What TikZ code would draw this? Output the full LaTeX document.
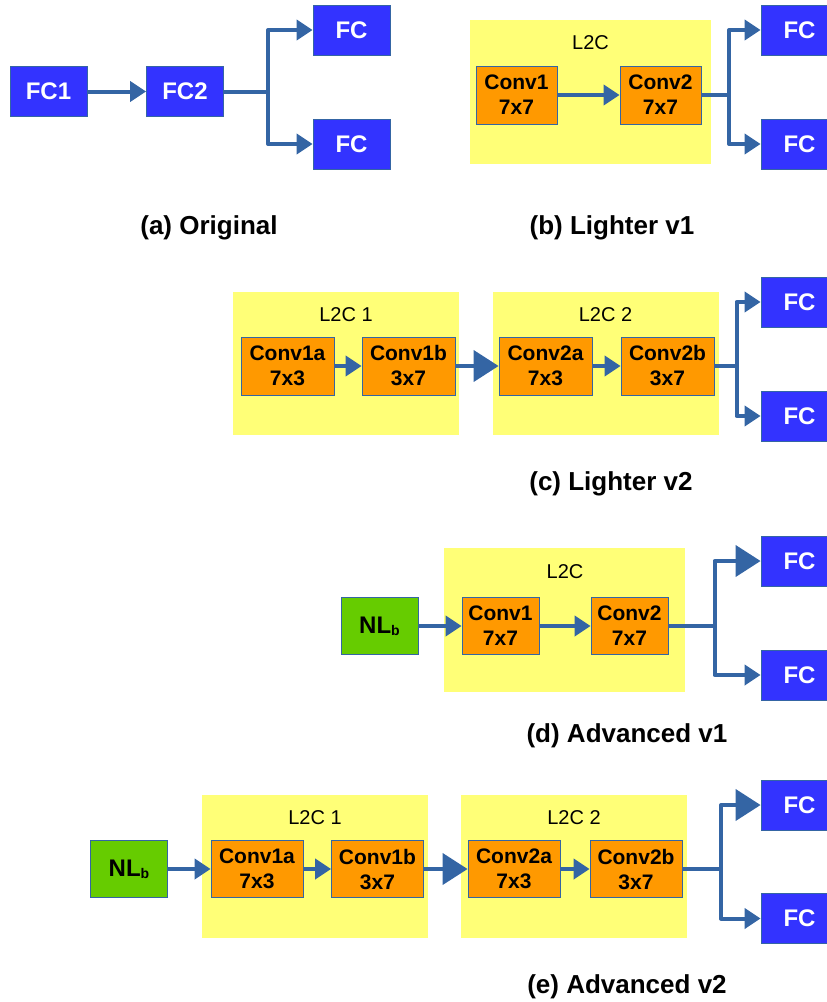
\documentclass[tikz,border=0pt]{standalone}
\usepackage{fontspec}
\setmainfont{Liberation Sans}
\usepackage{xcolor}
\usetikzlibrary{arrows.meta,positioning}

\definecolor{fcblue}{HTML}{3333FF}
\definecolor{convorange}{HTML}{FF9900}
\definecolor{nlgreen}{HTML}{66CC00}
\definecolor{l2cyellow}{HTML}{FFFF77}
\definecolor{arrblue}{HTML}{3465A4}

\begin{document}
\begin{tikzpicture}[x=1pt, y=-1pt,
  arr/.style={-{Triangle[length=16pt,width=20pt]}, line width=4pt, draw=arrblue, line join=round},
  bigarr/.style={-{Triangle[length=25pt,width=31pt]}, line width=4pt, draw=arrblue, line join=round},
  link/.style={line width=4pt, draw=arrblue},
  fcbox/.style={draw=arrblue, line width=0.8pt, fill=fcblue, text=white, minimum width=77pt,
                minimum height=50pt, inner sep=0pt, font=\fontsize{24}{28}\selectfont\bfseries},
  convbox/.style={draw=arrblue, line width=0.8pt, fill=convorange, minimum width=81pt,
                  minimum height=58pt, inner sep=0pt, align=center, font=\fontsize{21}{25}\selectfont\bfseries},
  nlbox/.style={draw=arrblue, line width=0.8pt, fill=nlgreen, minimum width=77pt,
                minimum height=57pt, inner sep=0pt, font=\fontsize{24}{28}\selectfont\bfseries},
  l2cbox/.style={fill=l2cyellow, minimum width=241pt, minimum height=144pt, inner sep=0pt},
  l2ctext/.style={font=\fontsize{20}{24}\selectfont},
  captext/.style={font=\fontsize{26}{30}\selectfont\bfseries},
]
\useasboundingbox (0,0) rectangle (827,1002);
\clip (0,0) rectangle (827,1002);

\node[fcbox] (fcone) at (48.5,91.5) {FC1};
\node[fcbox] (fctwo) at (185,91.5) {FC2};
\node[fcbox] (fcaup) at (351.5,30) {FC};
\node[fcbox] (fcadown) at (351.5,144) {FC};
\coordinate (forka) at (268,91.5);
\draw[arr] (fcone) -- (fctwo);
\draw[link] (fctwo) -- (forka);
\draw[arr] (forka) |- (fcaup);
\draw[arr] (forka) |- (fcadown);
\node[captext] (capa) at (209,228) {(a) Original};

\node[l2cbox] (l2cb) at (590.5,92) {};
\node[l2ctext] (l2cbtext) at (590.5,43) {L2C};
\node[convbox] (convbone) at (516.5,95) {Conv1\\7x7};
\node[convbox] (convbtwo) at (660.5,95) {Conv2\\7x7};
\node[fcbox] (fcbup) at (799.5,30) {FC};
\node[fcbox] (fcbdown) at (799.5,144) {FC};
\coordinate (forkb) at (729,95);
\draw[arr] (convbone) -- (convbtwo);
\draw[link] (convbtwo) -- (forkb);
\draw[arr] (forkb) |- (fcbup);
\draw[arr] (forkb) |- (fcbdown);
\node[captext] (capb) at (612,228) {(b) Lighter v1};

\node[l2cbox, minimum width=226pt, minimum height=143pt] (l2cca) at (346,363.5) {};
\node[l2ctext] (l2ccatext) at (346,315) {L2C 1};
\node[l2cbox, minimum width=226pt, minimum height=143pt] (l2ccb) at (605.5,363.5) {};
\node[l2ctext] (l2ccbtext) at (605.5,315) {L2C 2};
\node[convbox, minimum width=93pt] (convcia) at (287.5,366) {Conv1a\\7x3};
\node[convbox, minimum width=93pt] (convcib) at (408.5,366) {Conv1b\\3x7};
\node[convbox, minimum width=93pt] (convciia) at (545.5,366) {Conv2a\\7x3};
\node[convbox, minimum width=93pt] (convciib) at (667.5,366) {Conv2b\\3x7};
\node[fcbox] (fccup) at (799.5,302) {FC};
\node[fcbox] (fccdown) at (799.5,416) {FC};
\coordinate (forkc) at (736.5,366);
\draw[arr] (convcia) -- (convcib);
\draw[bigarr] (convcib) -- (convciia);
\draw[arr] (convciia) -- (convciib);
\draw[link] (convciib) -- (forkc);
\draw[arr] (forkc) |- (fccup);
\draw[arr] (forkc) |- (fccdown);
\node[captext] (capc) at (611,484) {(c) Lighter v2};

\node[l2cbox] (l2cd) at (564.5,620) {};
\node[l2ctext] (l2cdtext) at (565,572) {L2C};
\node[nlbox] (nld) at (379.5,626) {NL\raisebox{-2pt}{\fontsize{14}{14}\selectfont b}};
\node[convbox, minimum width=77pt, minimum height=57pt] (convdone) at (500.5,626) {Conv1\\7x7};
\node[convbox, minimum width=77pt, minimum height=57pt] (convdtwo) at (629.5,626) {Conv2\\7x7};
\node[fcbox] (fcdup) at (799.5,561) {FC};
\node[fcbox] (fcddown) at (799.5,675) {FC};
\coordinate (forkd) at (714.5,626);
\draw[arr] (nld) -- (convdone);
\draw[arr] (convdone) -- (convdtwo);
\draw[link] (convdtwo) -- (forkd);
\draw[bigarr] (forkd) |- (fcdup);
\draw[arr] (forkd) |- (fcddown);
\node[captext] (capd) at (627,736) {(d) Advanced v1};

\node[l2cbox, minimum width=226pt, minimum height=143pt] (l2cea) at (315,866.5) {};
\node[l2ctext] (l2ceatext) at (315,818) {L2C 1};
\node[l2cbox, minimum width=226pt, minimum height=143pt] (l2ceb) at (574,866.5) {};
\node[l2ctext] (l2cebtext) at (574,818) {L2C 2};
\node[nlbox] (nle) at (129,869) {NL\raisebox{-2pt}{\fontsize{14}{14}\selectfont b}};
\node[convbox, minimum width=92pt, minimum height=57pt] (conveia) at (257,869) {Conv1a\\7x3};
\node[convbox, minimum width=92pt, minimum height=57pt] (conveib) at (377.5,869) {Conv1b\\3x7};
\node[convbox, minimum width=92pt, minimum height=57pt] (conveiia) at (514,869) {Conv2a\\7x3};
\node[convbox, minimum width=92pt, minimum height=57pt] (conveiib) at (636,869) {Conv2b\\3x7};
\node[fcbox] (fceup) at (799.5,805) {FC};
\node[fcbox] (fcedown) at (799.5,918.5) {FC};
\coordinate (forke) at (721,869);
\draw[arr] (nle) -- (conveia);
\draw[arr] (conveia) -- (conveib);
\draw[bigarr] (conveib) -- (conveiia);
\draw[arr] (conveiia) -- (conveiib);
\draw[link] (conveiib) -- (forke);
\draw[bigarr] (forke) |- (fceup);
\draw[arr] (forke) |- (fcedown);
\node[captext] (cape) at (627,987) {(e) Advanced v2};
\end{tikzpicture}
\end{document}
